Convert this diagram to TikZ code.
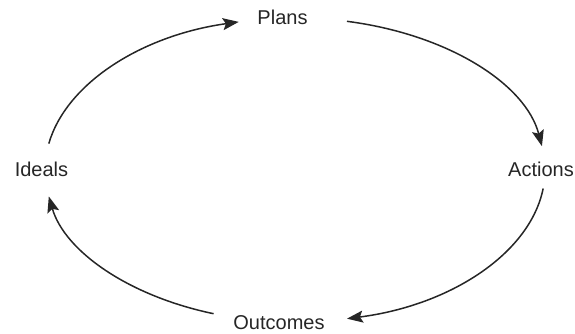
\documentclass[tikz,border=0pt]{standalone}
\usepackage{fontspec}
\setmainfont{Liberation Sans}
\usetikzlibrary{arrows.meta}
\begin{document}
\begin{tikzpicture}[x=1pt,y=1pt,
  lbl/.style={inner sep=0pt,font=\fontsize{20}{24}\selectfont,text=black!85},
  cyc/.style={line width=1.5pt,black!85,-{Stealth[length=16pt,width=12pt,inset=3pt]}}]
\useasboundingbox (0,0) rectangle (575,334);
\coordinate (ctr) at (295,164);
\node[lbl,anchor=base] (plans) at (282.5,309) {Plans};
\node[lbl,anchor=base] (ideals) at (41.5,157) {Ideals};
\node[lbl,anchor=base east] (actions) at (574,157) {Actions};
\node[lbl,anchor=base] (outcomes) at (279,4) {Outcomes};
\draw[cyc] ([shift={(170:250 and 152)}]ctr) arc[start angle=170,end angle=103,x radius=250,y radius=152];
\draw[cyc] ([shift={(78:250 and 152)}]ctr) arc[start angle=78,end angle=9,x radius=250,y radius=152];
\draw[cyc] ([shift={(-7:250 and 152)}]ctr) arc[start angle=-7,end angle=-78,x radius=250,y radius=152];
\draw[cyc] ([shift={(-109:250 and 152)}]ctr) arc[start angle=-109,end angle=-170,x radius=250,y radius=152];
\end{tikzpicture}
\end{document}
